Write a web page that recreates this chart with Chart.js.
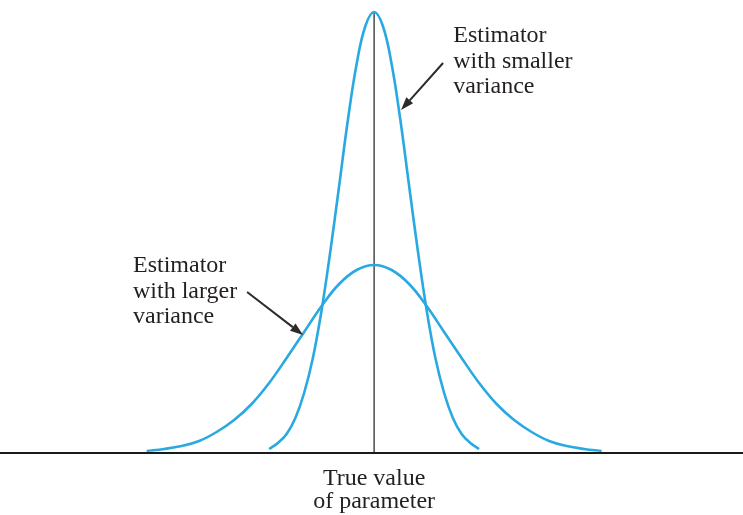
<!DOCTYPE html>
<html lang="en">

<head>
    <meta charset="UTF-8">
    <title>Estimator variance</title>
    <script src="https://cdn.jsdelivr.net/npm/chart.js@4.4.0/dist/chart.umd.min.js"></script>
    <style>
        body { margin: 0; background: #fff; }
        #wrap { width: 743px; height: 515px; position: relative; }
    </style>
</head>

<body>
    <div id="wrap">
        <canvas id="curves"></canvas>
    </div>
</body>
<script>
    // x in units of the narrow curve's spread, y = height above the axis
    const narrowX = [-3, -2.75, -2.5, -2.25, -2, -1.75, -1.5, -1.25, -1, -0.75, -0.5, -0.25, 0,
        0.25, 0.5, 0.75, 1, 1.25, 1.5, 1.75, 2, 2.25, 2.5, 2.75, 3];
    const narrowY = [0.04, 0.10, 0.19, 0.35, 0.60, 0.95, 1.43, 2.02, 2.67, 3.33, 3.89, 4.27, 4.41,
        4.27, 3.89, 3.33, 2.67, 2.02, 1.43, 0.95, 0.60, 0.35, 0.19, 0.10, 0.04];

    const wideX = [-6.5, -6, -5.5, -5, -4.5, -4, -3.5, -3, -2.5, -2, -1.5, -1, -0.5, 0,
        0.5, 1, 1.5, 2, 2.5, 3, 3.5, 4, 4.5, 5, 5.5, 6, 6.5];
    const wideY = [0.02, 0.04, 0.07, 0.12, 0.21, 0.33, 0.49, 0.70, 0.95, 1.21, 1.47, 1.69, 1.83, 1.88,
        1.83, 1.69, 1.47, 1.21, 0.95, 0.70, 0.49, 0.33, 0.21, 0.12, 0.07, 0.04, 0.02];

    const trueValue = 0;
    const xMin = -10.69, xMax = 10.54;

    const smallLabel = ['Estimator', 'with smaller', 'variance'];
    const largeLabel = ['Estimator', 'with larger', 'variance'];
    const axisLabel = ['True value', 'of parameter'];

    const blue = '#29a9e1';

    function pts(xs, ys) {
        return xs.map((x, i) => ({ x: x, y: ys[i] }));
    }

    // text + arrows, placed in data units
    const notes = {
        id: 'notes',
        afterDatasetsDraw(chart) {
            const ctx = chart.ctx;
            const sx = chart.scales.x, sy = chart.scales.y;
            const X = v => sx.getPixelForValue(v), Y = v => sy.getPixelForValue(v);

            ctx.save();
            ctx.fillStyle = '#231f20';
            ctx.font = '24px "Liberation Serif", "DejaVu Serif", serif';
            ctx.textBaseline = 'alphabetic';

            ctx.textAlign = 'left';
            smallLabel.forEach((t, i) => ctx.fillText(t, X(2.26), Y(4.11) + i * 25.5));
            largeLabel.forEach((t, i) => ctx.fillText(t, X(-6.89), Y(1.81) + i * 25.5));

            ctx.textAlign = 'center';
            axisLabel.forEach((t, i) => ctx.fillText(t, X(trueValue), Y(-0.32) + i * 23));

            arrow(ctx, X(1.97), Y(3.90), X(0.77), Y(3.43));
            arrow(ctx, X(-3.63), Y(1.61), X(-2.03), Y(1.18));
            ctx.restore();
        }
    };

    function arrow(ctx, x0, y0, x1, y1) {
        const a = Math.atan2(y1 - y0, x1 - x0);
        const len = 13, half = 4.5;
        const bx = x1 - len * Math.cos(a), by = y1 - len * Math.sin(a);
        ctx.strokeStyle = '#2b2b2b';
        ctx.fillStyle = '#2b2b2b';
        ctx.lineWidth = 2;
        ctx.beginPath();
        ctx.moveTo(x0, y0);
        ctx.lineTo(bx, by);
        ctx.stroke();
        ctx.beginPath();
        ctx.moveTo(x1, y1);
        ctx.lineTo(bx + half * Math.sin(a), by - half * Math.cos(a));
        ctx.lineTo(bx - half * Math.sin(a), by + half * Math.cos(a));
        ctx.closePath();
        ctx.fill();
    }

    new Chart(document.getElementById('curves'), {
        type: 'line',
        data: {
            datasets: [{
                    label: 'smaller variance',
                    data: pts(narrowX, narrowY),
                    borderColor: blue,
                    borderWidth: 2.6,
                    tension: 0.4,
                    order: 1
                },
                {
                    label: 'larger variance',
                    data: pts(wideX, wideY),
                    borderColor: blue,
                    borderWidth: 2.6,
                    tension: 0.4,
                    order: 2
                },
                {
                    label: 'true value',
                    data: [{ x: trueValue, y: 0 }, { x: trueValue, y: narrowY[12] }],
                    borderColor: '#4a4a4a',
                    borderWidth: 1.5,
                    order: 3
                },
                {
                    label: 'axis',
                    data: [{ x: xMin, y: 0 }, { x: xMax, y: 0 }],
                    borderColor: '#1a1a1a',
                    borderWidth: 2,
                    order: 0
                }
            ]
        },
        options: {
            responsive: true,
            maintainAspectRatio: false,
            animation: false,
            layout: { padding: { left: 0, right: 0, top: 0, bottom: 62 } },
            elements: { point: { radius: 0 } },
            datasets: { line: { clip: false, fill: false } },
            plugins: { legend: { display: false }, tooltip: { enabled: false } },
            scales: {
                x: { type: 'linear', min: xMin, max: xMax, display: false },
                y: { min: 0, max: 4.53, display: false }
            }
        },
        plugins: [notes]
    });
</script>

</html>
